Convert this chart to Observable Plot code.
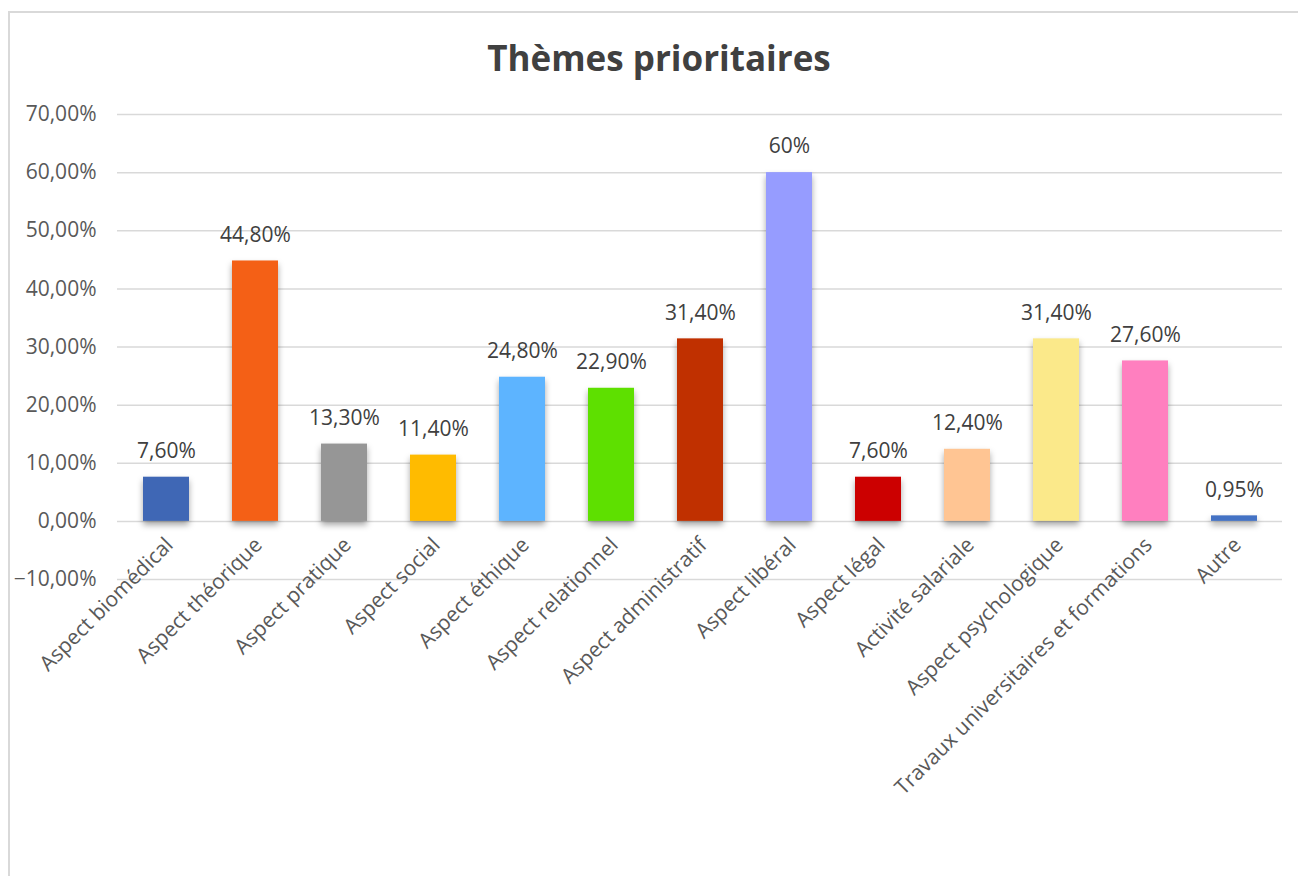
<!DOCTYPE html>
<html>
<head>
<meta charset="utf-8">
<script src="https://cdn.jsdelivr.net/npm/d3@7"></script>
<script src="https://cdn.jsdelivr.net/npm/@observablehq/plot@0.6"></script>
<style>
  html, body { margin: 0; padding: 0; background: #fff; }
  #wrap { position: relative; width: 1298px; height: 876px; overflow: hidden; font-family: "Open Sans", sans-serif; }
  #frame { position: absolute; left: 8px; top: 11px; width: 1300px; height: 900px; border: 2px solid #d9d9d9; box-sizing: border-box; }
  #title { position: absolute; left: 0; top: 0; width: 1318px; height: 80px; text-align: center; font-weight: bold; font-size: 35px; color: #404040; line-height: 116px; }
  #chart { position: absolute; left: 0; top: 80px; }
</style>
</head>
<body>
<div id="wrap">
  <div id="frame"></div>
  <div id="title">Thèmes prioritaires</div>
  <div id="chart"></div>
</div>
<script>
const categories = [
  "Aspect biomédical", "Aspect théorique", "Aspect pratique", "Aspect social",
  "Aspect éthique", "Aspect relationnel", "Aspect administratif", "Aspect libéral",
  "Aspect légal", "Activité salariale", "Aspect psychologique",
  "Travaux universitaires et formations", "Autre"
];
const values = [0.076, 0.448, 0.133, 0.114, 0.248, 0.229, 0.314, 0.60, 0.076, 0.124, 0.314, 0.276, 0.0095];
const valueLabels = ["7,60%", "44,80%", "13,30%", "11,40%", "24,80%", "22,90%", "31,40%", "60%", "7,60%", "12,40%", "31,40%", "27,60%", "0,95%"];
const colors = ["#3f67b5", "#f46016", "#969696", "#ffbb00", "#5db4ff", "#5ee000", "#c03000", "#969cff", "#cc0000", "#ffc593", "#fbe98a", "#ff7fbf", "#4472c4"];
const yTicks = [-0.1, 0, 0.1, 0.2, 0.3, 0.4, 0.5, 0.6, 0.7];

const data = categories.map((c, i) => ({cat: c, value: values[i], label: valueLabels[i], color: colors[i]}));
const fmt = d => d3.format(".2f")(d * 100).replace(".", ",") + "%";

const chart = Plot.plot({
  width: 1298,
  height: 796,
  marginTop: 34,
  marginBottom: 297,
  marginLeft: 117,
  marginRight: 16,
  style: {fontFamily: "Open Sans, sans-serif", background: "transparent", overflow: "visible"},
  x: {domain: categories, paddingInner: 0.486, paddingOuter: 0.22},
  y: {domain: [-0.1, 0.7]},
  marks: [
    Plot.gridY(yTicks, {stroke: "#d9d9d9", strokeOpacity: 1, strokeWidth: 1.5}),
    Plot.axisY({ticks: yTicks, tickFormat: fmt, tickSize: 0, tickPadding: 21, fontSize: 21, color: "#595959", label: null}),
    Plot.axisX({tickRotate: -45, tickSize: 0, tickPadding: 0, dy: -38, dx: 3, fontSize: 21, color: "#595959", label: null}),
    Plot.barY(data, {x: "cat", y: "value", fill: "color", imageFilter: "drop-shadow(0px 4px 3px rgba(0,0,0,0.35))"}),
    Plot.text(data, {x: "cat", y: "value", text: "label", dy: -26, fontSize: 21, fill: "#404040"})
  ]
});
document.getElementById("chart").appendChild(chart);
</script>
</body>
</html>
